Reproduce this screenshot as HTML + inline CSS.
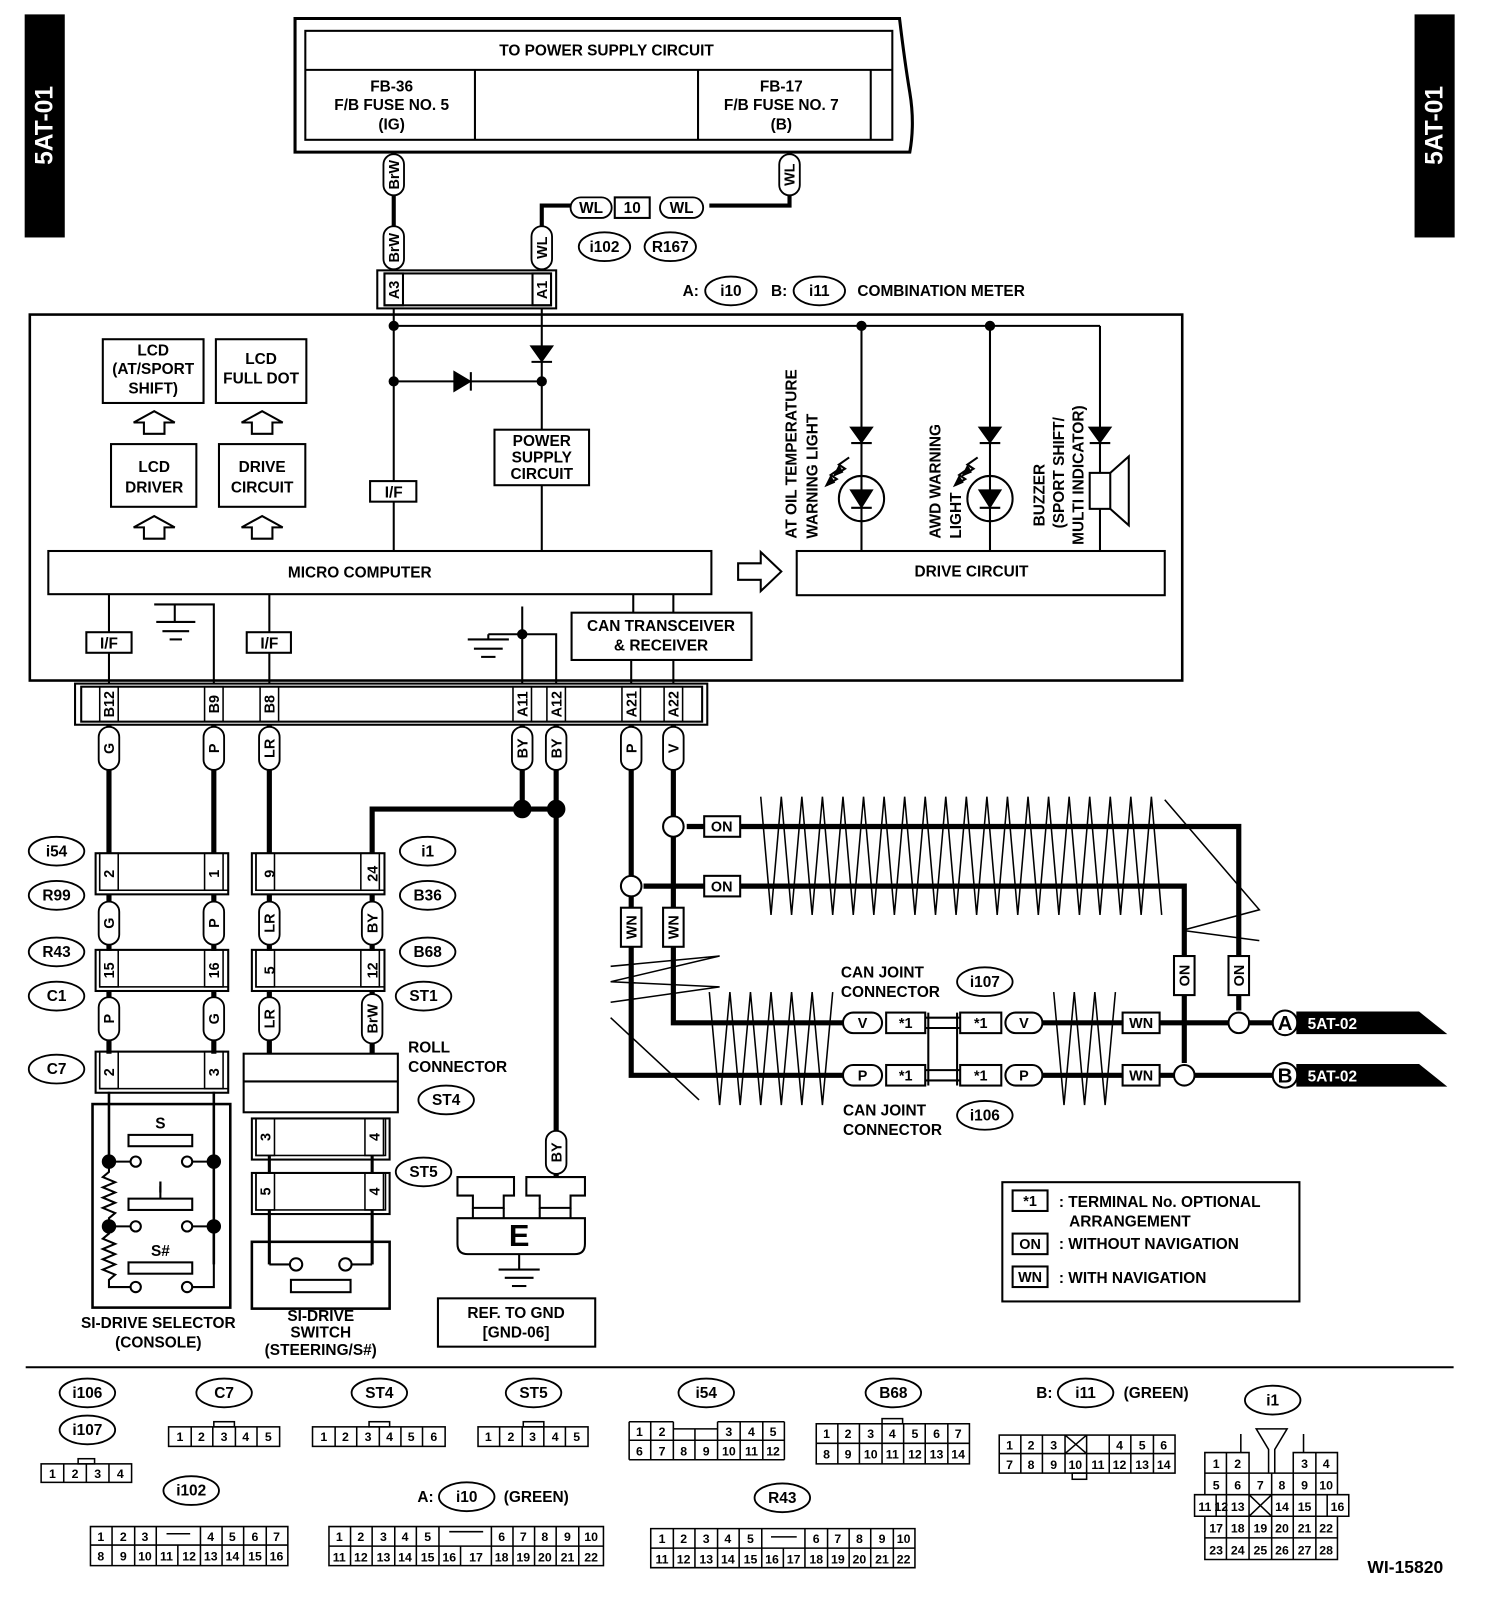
<!DOCTYPE html>
<html><head><meta charset="utf-8"><style>
html,body{margin:0;padding:0;background:#fff}
svg{display:block}
text{font-family:"Liberation Sans",sans-serif;font-weight:bold;fill:#000}
</style></head><body>
<svg width="1504" height="1616" viewBox="0 0 1463 1572" preserveAspectRatio="none" xmlns="http://www.w3.org/2000/svg">
<g fill="none" stroke="#000" stroke-width="2">
<!-- tabs -->
<rect x="25" y="15" width="37" height="215" fill="#000"/>
<rect x="1377" y="15" width="37" height="215" fill="#000"/>
<!-- power supply -->
<path d="M287 148 V18 H875 Q880 60 885 90 Q890 120 885 148 Z" stroke-width="3"/>
<rect x="297" y="30" width="571" height="106"/>
<line x1="297" y1="68" x2="868" y2="68"/>
<line x1="462" y1="68" x2="462" y2="136"/><line x1="679" y1="68" x2="679" y2="136"/><line x1="847" y1="68" x2="847" y2="136"/>
<!-- wires top -->
<line x1="383" y1="148" x2="383" y2="263" stroke-width="4"/>
<polyline points="768,148 768,200 690,200" stroke-width="4"/>
<polyline points="555,200 527,200 527,263" stroke-width="4"/>
<rect x="598" y="192" width="34" height="20"/>
<rect x="367" y="263" width="174" height="37"/>
<rect x="374" y="266" width="162" height="31"/>
<rect x="374" y="266" width="18" height="31"/><rect x="518" y="266" width="18" height="31"/>
<!-- main box -->
<rect x="29" y="306" width="1121" height="356" stroke-width="2.5"/>
<line x1="383" y1="317" x2="1070" y2="317"/>
<line x1="383" y1="300" x2="383" y2="536"/>
<line x1="527" y1="300" x2="527" y2="418"/><line x1="527" y1="472" x2="527" y2="536"/>
<line x1="383" y1="371" x2="527" y2="371"/>
<rect x="360" y="468" width="45" height="20" fill="#fff"/>
<rect x="481" y="418" width="92" height="54"/>
<rect x="100" y="330" width="98" height="62"/><rect x="210" y="330" width="88" height="62"/>
<rect x="108" y="432" width="83" height="61"/><rect x="213" y="432" width="84" height="61"/>
<path d="M140 422 V411 H130 L150 400 L170 411 H160 V422 Z"/>
<path d="M245 422 V411 H235 L255 400 L275 411 H265 V422 Z"/>
<path d="M140 524 V513 H130 L150 502 L170 513 H160 V524 Z"/>
<path d="M245 524 V513 H235 L255 502 L275 513 H265 V524 Z"/>
<rect x="47" y="536" width="645" height="42"/>
<path d="M718 548 H740 V537 L760 556 L740 575 V564 H718 Z"/>
<rect x="775" y="536" width="358" height="43"/>
<line x1="838" y1="317" x2="838" y2="536"/><line x1="963" y1="317" x2="963" y2="536"/>
<polyline points="1070,317 1070,460"/><line x1="1070" y1="495" x2="1070" y2="536"/>
<circle cx="838" cy="485" r="22"/><circle cx="963" cy="485" r="22"/>
<rect x="1060" y="460" width="20" height="35"/><path d="M1080 460 L1098 444 V511 L1080 495"/>
<path d="M818 455 L808 462 L814 466 L804 472"/><path d="M826 445 L816 452 L822 456 L812 462"/>
<path d="M943 455 L933 462 L939 466 L929 472"/><path d="M951 445 L941 452 L947 456 L937 462"/>
<!-- bottom inside -->
<line x1="106" y1="578" x2="106" y2="665"/><line x1="262" y1="578" x2="262" y2="665"/>
<polyline points="150,588 208,588 208,665"/>
<line x1="170" y1="588" x2="170" y2="605"/>
<line x1="152" y1="605" x2="190" y2="605"/><line x1="158" y1="614" x2="184" y2="614"/><line x1="165" y1="622" x2="177" y2="622"/>
<rect x="84" y="615" width="44" height="20" fill="#fff"/><rect x="240" y="615" width="43" height="20" fill="#fff"/>
<line x1="508" y1="590" x2="508" y2="665"/>
<polyline points="508,617 541,617 541,665"/>
<line x1="475" y1="617" x2="508" y2="617"/><line x1="475" y1="617" x2="475" y2="622"/>
<line x1="455" y1="622" x2="495" y2="622"/><line x1="461" y1="631" x2="489" y2="631"/><line x1="468" y1="639" x2="482" y2="639"/>
<rect x="556" y="596" width="175" height="46"/>
<line x1="616" y1="578" x2="616" y2="596"/><line x1="655" y1="578" x2="655" y2="596"/>
<line x1="614" y1="642" x2="614" y2="665"/><line x1="655" y1="642" x2="655" y2="665"/>
<!-- bottom connector -->
<rect x="73" y="665" width="615" height="40"/><rect x="79" y="668" width="604" height="34"/>
<g stroke-width="1.5">
<rect x="97" y="668" width="18" height="34"/><rect x="199" y="668" width="18" height="34"/><rect x="253" y="668" width="18" height="34"/>
<rect x="499" y="668" width="18" height="34"/><rect x="532" y="668" width="18" height="34"/><rect x="605" y="668" width="18" height="34"/><rect x="646" y="668" width="18" height="34"/>
</g>
<!-- thick wires -->
<g stroke-width="5">
<line x1="106" y1="705" x2="106" y2="830"/><line x1="208" y1="705" x2="208" y2="830"/><line x1="262" y1="705" x2="262" y2="830"/>
<line x1="508" y1="705" x2="508" y2="787"/><line x1="541" y1="705" x2="541" y2="1145"/>
<polyline points="541,787 362,787 362,830"/>
<line x1="106" y1="870" x2="106" y2="925"/><line x1="208" y1="870" x2="208" y2="925"/>
<line x1="262" y1="870" x2="262" y2="925"/><line x1="362" y1="870" x2="362" y2="925"/>
<line x1="106" y1="965" x2="106" y2="1025"/><line x1="208" y1="965" x2="208" y2="1025"/>
<line x1="262" y1="965" x2="262" y2="1025"/><line x1="362" y1="965" x2="362" y2="1025"/>
<polyline points="655,705 655,995 820,995"/>
<polyline points="614,705 614,1046 820,1046"/>
<polyline points="668,804 685,804"/><polyline points="720,804 1205,804 1205,983"/>
<polyline points="626,862 685,862"/><polyline points="720,862 1152,862 1152,1034"/>
<line x1="1014" y1="995" x2="1092" y2="995"/><line x1="1128" y1="995" x2="1238" y2="995"/>
<line x1="1014" y1="1046" x2="1092" y2="1046"/><line x1="1128" y1="1046" x2="1238" y2="1046"/>
</g>
<circle cx="508" cy="787" r="8" fill="#000"/><circle cx="541" cy="787" r="8" fill="#000"/>
<circle cx="655" cy="804" r="10" fill="#fff"/><circle cx="614" cy="862" r="10" fill="#fff"/>
<circle cx="1205" cy="995" r="10" fill="#fff"/><circle cx="1152" cy="1046" r="10" fill="#fff"/>
<!-- zigzags -->
<g stroke-width="1.5">
<polyline points="740,775 750,890 760,775 770,890 780,775 790,890 800,775 810,890 820,775 830,890 840,775 850,890 860,775 870,890 880,775 890,890 900,775 910,890 920,775 930,890 940,775 950,890 960,775 970,890 980,775 990,890 1000,775 1010,890 1020,775 1030,890 1040,775 1050,890 1060,775 1070,890 1080,775 1090,890 1100,775 1110,890 1120,775 1130,890"/>
<polyline points="1133,778 1225,885 1150,905 1225,915"/>
<polyline points="690,965 700,1075 710,965 720,1075 730,965 740,1075 750,965 760,1075 770,965 780,1075 790,965 800,1075 810,965"/>
<polyline points="1025,965 1035,1075 1045,965 1055,1075 1065,965 1075,1075 1085,965"/>
<polyline points="594,940 700,930 594,955 700,960 594,975"/>
<polyline points="594,990 680,1070"/>
</g>
<!-- CAN connectors -->
<rect x="820" y="985" width="38" height="20" rx="10" fill="#fff"/><rect x="862" y="985" width="38" height="20" fill="#fff"/>
<rect x="934" y="985" width="40" height="20" fill="#fff"/><rect x="978" y="985" width="36" height="20" rx="10" fill="#fff"/>
<rect x="820" y="1036" width="38" height="20" rx="10" fill="#fff"/><rect x="862" y="1036" width="38" height="20" fill="#fff"/>
<rect x="934" y="1036" width="40" height="20" fill="#fff"/><rect x="978" y="1036" width="36" height="20" rx="10" fill="#fff"/>
<line x1="900" y1="990" x2="934" y2="990"/><line x1="900" y1="1000" x2="934" y2="1000"/>
<line x1="900" y1="1041" x2="934" y2="1041"/><line x1="900" y1="1051" x2="934" y2="1051"/>
<line x1="903" y1="985" x2="903" y2="1056"/><line x1="931" y1="985" x2="931" y2="1056"/>
<rect x="1092" y="985" width="36" height="20" fill="#fff"/><rect x="1092" y="1036" width="36" height="20" fill="#fff"/>
<rect x="685" y="794" width="35" height="20" fill="#fff"/><rect x="685" y="852" width="35" height="20" fill="#fff"/>
<rect x="1142" y="930" width="20" height="38" fill="#fff"/><rect x="1195" y="930" width="20" height="38" fill="#fff"/>
<rect x="604" y="883" width="20" height="38" fill="#fff"/><rect x="645" y="883" width="20" height="38" fill="#fff"/>
<circle cx="1250" cy="995" r="12" fill="#fff"/><circle cx="1250" cy="1046" r="12" fill="#fff"/>
<path d="M1262 985 H1380 L1405 1005 H1262 Z" fill="#000"/>
<path d="M1262 1036 H1380 L1405 1056 H1262 Z" fill="#000"/>
<!-- left connectors -->
<g id="cL">
<rect x="93" y="830" width="129" height="40"/><rect x="97" y="830" width="125" height="36" stroke-width="1.5"/>
<rect x="97" y="830" width="18" height="36" stroke-width="1.5"/><rect x="199" y="830" width="18" height="36" stroke-width="1.5"/>
</g>
<use href="#cL" y="94"/><use href="#cL" y="193"/>
<use href="#cL" x="152"/><use href="#cL" x="152" y="94"/>
<rect x="237" y="1025" width="150" height="57"/><line x1="237" y1="1052" x2="387" y2="1052"/>
<rect x="245" y="1088" width="134" height="40"/><rect x="249" y="1088" width="126" height="36" stroke-width="1.5"/>
<rect x="249" y="1088" width="18" height="36" stroke-width="1.5"/><rect x="355" y="1088" width="18" height="36" stroke-width="1.5"/>
<rect x="245" y="1141" width="134" height="40"/><rect x="249" y="1141" width="126" height="36" stroke-width="1.5"/>
<rect x="249" y="1141" width="18" height="36" stroke-width="1.5"/><rect x="355" y="1141" width="18" height="36" stroke-width="1.5"/>
<line x1="262" y1="1124" x2="262" y2="1141" stroke-width="3"/><line x1="362" y1="1124" x2="362" y2="1141" stroke-width="3"/>
<line x1="262" y1="1177" x2="262" y2="1230" stroke-width="3"/><line x1="362" y1="1177" x2="362" y2="1230" stroke-width="3"/>
<rect x="245" y="1208" width="134" height="65" stroke-width="2.5"/>
<circle cx="288" cy="1230" r="6" fill="#fff"/><circle cx="336" cy="1230" r="6" fill="#fff"/>
<line x1="262" y1="1230" x2="282" y2="1230"/><line x1="342" y1="1230" x2="362" y2="1230"/>
<rect x="283" y="1245" width="58" height="12"/>
<!-- selector -->
<rect x="90" y="1074" width="134" height="198" stroke-width="2.5"/>
<line x1="106" y1="1062" x2="106" y2="1130" stroke-width="2.5"/><line x1="208" y1="1062" x2="208" y2="1230" stroke-width="2.5"/>
<rect x="125" y="1104" width="62" height="11"/><rect x="125" y="1166" width="62" height="11"/><rect x="125" y="1228" width="62" height="11"/>
<line x1="156" y1="1154" x2="156" y2="1166"/>
<circle cx="106" cy="1130" r="6" fill="#000"/><circle cx="208" cy="1130" r="6" fill="#000"/>
<circle cx="106" cy="1193" r="6" fill="#000"/><circle cx="208" cy="1193" r="6" fill="#000"/>
<circle cx="132" cy="1130" r="5" fill="#fff"/><circle cx="182" cy="1130" r="5" fill="#fff"/>
<circle cx="132" cy="1193" r="5" fill="#fff"/><circle cx="182" cy="1193" r="5" fill="#fff"/>
<circle cx="132" cy="1252" r="5" fill="#fff"/><circle cx="182" cy="1252" r="5" fill="#fff"/>
<line x1="106" y1="1130" x2="127" y2="1130"/><line x1="187" y1="1130" x2="208" y2="1130"/>
<line x1="106" y1="1193" x2="127" y2="1193"/><line x1="187" y1="1193" x2="208" y2="1193"/>
<polyline points="208,1193 208,1252 187,1252"/>
<polyline points="106,1130 106,1140 100,1145 112,1150 100,1155 112,1160 100,1165 112,1170 100,1175 112,1180 106,1185 106,1200 100,1205 112,1210 100,1215 112,1220 100,1225 112,1230 100,1235 112,1240 106,1245 106,1252 127,1252"/>
<!-- ground E -->
<path d="M445 1145 H500 V1163 H490 V1175 H460 V1163 H445 Z"/>
<path d="M512 1145 H569 V1163 H555 V1175 H525 V1163 H512 Z"/>
<path d="M445 1185 H569 V1210 Q569 1220 559 1220 H455 Q445 1220 445 1210 Z"/>
<line x1="460" y1="1175" x2="460" y2="1185"/><line x1="490" y1="1175" x2="490" y2="1185"/><line x1="525" y1="1175" x2="525" y2="1185"/><line x1="555" y1="1175" x2="555" y2="1185"/>
<line x1="505" y1="1220" x2="505" y2="1235"/>
<line x1="485" y1="1235" x2="525" y2="1235"/><line x1="491" y1="1243" x2="519" y2="1243"/><line x1="498" y1="1251" x2="512" y2="1251"/>
<rect x="426" y="1263" width="153" height="47"/>
<!-- legend -->
<rect x="975" y="1150" width="289" height="116"/>
<rect x="985" y="1158" width="34" height="20"/><rect x="985" y="1200" width="34" height="20"/><rect x="985" y="1232" width="34" height="20"/>
<line x1="25" y1="1330" x2="1414" y2="1330"/>
<!-- ellipses -->
<g stroke-width="1.8">
<ellipse cx="588" cy="240" rx="25" ry="14"/><ellipse cx="652" cy="240" rx="25" ry="14"/>
<ellipse cx="711" cy="283" rx="25" ry="14"/><ellipse cx="797" cy="283" rx="25" ry="14"/>
<ellipse cx="55" cy="828" rx="27" ry="14"/><ellipse cx="55" cy="871" rx="27" ry="14"/><ellipse cx="55" cy="926" rx="27" ry="14"/><ellipse cx="55" cy="969" rx="27" ry="14"/><ellipse cx="55" cy="1040" rx="27" ry="14"/>
<ellipse cx="416" cy="828" rx="27" ry="14"/><ellipse cx="416" cy="871" rx="27" ry="14"/><ellipse cx="416" cy="926" rx="27" ry="14"/><ellipse cx="412" cy="969" rx="27" ry="14"/><ellipse cx="434" cy="1070" rx="27" ry="14"/><ellipse cx="412" cy="1140" rx="27" ry="14"/>
<ellipse cx="958" cy="955" rx="27" ry="14"/><ellipse cx="958" cy="1085" rx="27" ry="14"/>
<ellipse cx="85" cy="1355" rx="27" ry="14"/><ellipse cx="85" cy="1391" rx="27" ry="14"/><ellipse cx="218" cy="1355" rx="27" ry="14"/><ellipse cx="369" cy="1355" rx="27" ry="14"/><ellipse cx="519" cy="1355" rx="27" ry="14"/><ellipse cx="687" cy="1355" rx="27" ry="14"/><ellipse cx="869" cy="1355" rx="27" ry="14"/><ellipse cx="1056" cy="1355" rx="27" ry="14"/><ellipse cx="1238" cy="1362" rx="27" ry="14"/><ellipse cx="186" cy="1450" rx="27" ry="14"/><ellipse cx="454" cy="1456" rx="27" ry="14"/><ellipse cx="761" cy="1457" rx="27" ry="14"/>
</g>
<!-- vertical wire pills -->
<g fill="#fff" stroke-width="1.8">
<rect x="373" y="150" width="20" height="40" rx="10"/><rect x="373" y="220" width="20" height="42" rx="10"/>
<rect x="758" y="150" width="20" height="40" rx="10"/><rect x="517" y="220" width="20" height="42" rx="10"/>
<rect x="555" y="192" width="40" height="20" rx="10"/><rect x="642" y="192" width="42" height="20" rx="10"/>
<rect x="96" y="707" width="20" height="42" rx="10"/><rect x="198" y="707" width="20" height="42" rx="10"/><rect x="252" y="707" width="20" height="42" rx="10"/>
<rect x="498" y="707" width="20" height="42" rx="10"/><rect x="531" y="707" width="20" height="42" rx="10"/><rect x="604" y="707" width="20" height="42" rx="10"/><rect x="645" y="707" width="20" height="42" rx="10"/>
<rect x="96" y="877" width="20" height="42" rx="10"/><rect x="198" y="877" width="20" height="42" rx="10"/><rect x="252" y="877" width="20" height="42" rx="10"/><rect x="352" y="877" width="20" height="42" rx="10"/>
<rect x="96" y="970" width="20" height="42" rx="10"/><rect x="198" y="970" width="20" height="42" rx="10"/><rect x="252" y="970" width="20" height="42" rx="10"/><rect x="352" y="967" width="20" height="48" rx="10"/>
<rect x="531" y="1100" width="20" height="42" rx="10"/>
</g>
</g>
<!-- diodes -->
<g fill="#000" stroke="#000" stroke-width="2">
<path d="M517 337 H537 L527 351 Z"/><line x1="517" y1="352" x2="537" y2="352"/>
<path d="M442 362 V380 L457 371 Z"/><line x1="458" y1="362" x2="458" y2="380"/>
<path d="M828 416 H848 L838 430 Z"/><line x1="828" y1="431" x2="848" y2="431"/>
<path d="M953 416 H973 L963 430 Z"/><line x1="953" y1="431" x2="973" y2="431"/>
<path d="M1060 416 H1080 L1070 430 Z"/><line x1="1060" y1="431" x2="1080" y2="431"/>
<path d="M828 477 H848 L838 493 Z"/><line x1="828" y1="494" x2="848" y2="494"/>
<path d="M953 477 H973 L963 493 Z"/><line x1="953" y1="494" x2="973" y2="494"/>
<path d="M804 472 l4 -8 l3 5 Z"/><path d="M812 462 l4 -8 l3 5 Z"/>
<path d="M929 472 l4 -8 l3 5 Z"/><path d="M937 462 l4 -8 l3 5 Z"/>
<circle cx="383" cy="317" r="4"/><circle cx="838" cy="317" r="4"/><circle cx="963" cy="317" r="4"/>
<circle cx="383" cy="371" r="4"/><circle cx="527" cy="371" r="4"/><circle cx="508" cy="617" r="4"/>
</g>
<!-- TEXT -->
<g font-size="15">
<text x="43" y="122" transform="rotate(-90 43 122)" text-anchor="middle" fill="#fff" style="fill:#fff" font-size="24" dy="8">5AT-01</text>
<text x="1395" y="122" transform="rotate(-90 1395 122)" text-anchor="middle" style="fill:#fff" font-size="24" dy="8">5AT-01</text>
<text x="590" y="54" text-anchor="middle">TO POWER SUPPLY CIRCUIT</text>
<text x="381" y="89" text-anchor="middle">FB-36</text><text x="381" y="107" text-anchor="middle">F/B FUSE NO. 5</text><text x="381" y="126" text-anchor="middle">(IG)</text>
<text x="760" y="89" text-anchor="middle">FB-17</text><text x="760" y="107" text-anchor="middle">F/B FUSE NO. 7</text><text x="760" y="126" text-anchor="middle">(B)</text>
<text x="615" y="207" text-anchor="middle">10</text>
<text x="575" y="207" text-anchor="middle">WL</text><text x="663" y="207" text-anchor="middle">WL</text>
<text x="588" y="245" text-anchor="middle">i102</text><text x="652" y="245" text-anchor="middle">R167</text>
<text x="664" y="288">A:</text><text x="711" y="288" text-anchor="middle">i10</text><text x="750" y="288">B:</text><text x="797" y="288" text-anchor="middle">i11</text>
<text x="834" y="288">COMBINATION METER</text>
<text x="149" y="346" text-anchor="middle">LCD</text><text x="149" y="364" text-anchor="middle">(AT/SPORT</text><text x="149" y="383" text-anchor="middle">SHIFT)</text>
<text x="254" y="354" text-anchor="middle">LCD</text><text x="254" y="373" text-anchor="middle">FULL DOT</text>
<text x="150" y="459" text-anchor="middle">LCD</text><text x="150" y="479" text-anchor="middle">DRIVER</text>
<text x="255" y="459" text-anchor="middle">DRIVE</text><text x="255" y="479" text-anchor="middle">CIRCUIT</text>
<text x="527" y="434" text-anchor="middle">POWER</text><text x="527" y="450" text-anchor="middle">SUPPLY</text><text x="527" y="466" text-anchor="middle">CIRCUIT</text>
<text x="383" y="484" text-anchor="middle">I/F</text>
<text x="350" y="562" text-anchor="middle">MICRO COMPUTER</text>
<text x="945" y="561" text-anchor="middle">DRIVE CIRCUIT</text>
<text x="643" y="614" text-anchor="middle">CAN TRANSCEIVER</text><text x="643" y="633" text-anchor="middle">&amp; RECEIVER</text>
<text x="106" y="631" text-anchor="middle">I/F</text><text x="262" y="631" text-anchor="middle">I/F</text>
<text transform="translate(775 524) rotate(-90)">AT OIL TEMPERATURE</text>
<text transform="translate(795 524) rotate(-90)">WARNING LIGHT</text>
<text transform="translate(915 524) rotate(-90)">AWD WARNING</text>
<text transform="translate(935 524) rotate(-90)">LIGHT</text>
<text transform="translate(1016 512) rotate(-90)">BUZZER</text>
<text transform="translate(1035 514) rotate(-90)">(SPORT SHIFT/</text>
<text transform="translate(1054 530) rotate(-90)">MULTI INDICATOR)</text>
<g font-size="14" text-anchor="middle">
<text transform="translate(388 170) rotate(-90)">BrW</text><text transform="translate(388 241) rotate(-90)">BrW</text>
<text transform="translate(773 170) rotate(-90)">WL</text><text transform="translate(532 241) rotate(-90)">WL</text>
<text transform="translate(388 282) rotate(-90)">A3</text><text transform="translate(532 282) rotate(-90)">A1</text>
<text transform="translate(111 685) rotate(-90)">B12</text><text transform="translate(213 685) rotate(-90)">B9</text><text transform="translate(267 685) rotate(-90)">B8</text>
<text transform="translate(513 685) rotate(-90)">A11</text><text transform="translate(546 685) rotate(-90)">A12</text><text transform="translate(619 685) rotate(-90)">A21</text><text transform="translate(660 685) rotate(-90)">A22</text>
<text transform="translate(111 728) rotate(-90)">G</text><text transform="translate(213 728) rotate(-90)">P</text><text transform="translate(267 728) rotate(-90)">LR</text>
<text transform="translate(513 728) rotate(-90)">BY</text><text transform="translate(546 728) rotate(-90)">BY</text><text transform="translate(619 728) rotate(-90)">P</text><text transform="translate(660 728) rotate(-90)">V</text>
<text transform="translate(111 850) rotate(-90)">2</text><text transform="translate(213 850) rotate(-90)">1</text><text transform="translate(267 850) rotate(-90)">9</text><text transform="translate(367 850) rotate(-90)">24</text>
<text transform="translate(111 898) rotate(-90)">G</text><text transform="translate(213 898) rotate(-90)">P</text><text transform="translate(267 898) rotate(-90)">LR</text><text transform="translate(367 898) rotate(-90)">BY</text>
<text transform="translate(111 944) rotate(-90)">15</text><text transform="translate(213 944) rotate(-90)">16</text><text transform="translate(267 944) rotate(-90)">5</text><text transform="translate(367 944) rotate(-90)">12</text>
<text transform="translate(111 991) rotate(-90)">P</text><text transform="translate(213 991) rotate(-90)">G</text><text transform="translate(267 991) rotate(-90)">LR</text><text transform="translate(367 991) rotate(-90)">BrW</text>
<text transform="translate(111 1043) rotate(-90)">2</text><text transform="translate(213 1043) rotate(-90)">3</text>
<text transform="translate(263 1106) rotate(-90)">3</text><text transform="translate(369 1106) rotate(-90)">4</text>
<text transform="translate(263 1159) rotate(-90)">5</text><text transform="translate(369 1159) rotate(-90)">4</text>
<text transform="translate(546 1121) rotate(-90)">BY</text>
<text transform="translate(619 902) rotate(-90)">WN</text><text transform="translate(660 902) rotate(-90)">WN</text>
<text transform="translate(1157 949) rotate(-90)">ON</text><text transform="translate(1210 949) rotate(-90)">ON</text>
<text x="702" y="809">ON</text><text x="702" y="867">ON</text>
<text x="839" y="1000">V</text><text x="881" y="1000">*1</text><text x="954" y="1000">*1</text><text x="996" y="1000">V</text><text x="1110" y="1000">WN</text>
<text x="839" y="1051">P</text><text x="881" y="1051">*1</text><text x="954" y="1051">*1</text><text x="996" y="1051">P</text><text x="1110" y="1051">WN</text>
<text x="1002" y="1173">*1</text><text x="1002" y="1215">ON</text><text x="1002" y="1247">WN</text>
</g>
<text x="1250" y="1002" text-anchor="middle" font-size="20">A</text><text x="1250" y="1053" text-anchor="middle" font-size="20">B</text>
<text x="1272" y="1001" style="fill:#fff">5AT-02</text><text x="1272" y="1052" style="fill:#fff">5AT-02</text>
<text x="818" y="951">CAN JOINT</text><text x="818" y="970">CONNECTOR</text>
<text x="820" y="1085">CAN JOINT</text><text x="820" y="1104">CONNECTOR</text>
<text x="958" y="960" text-anchor="middle">i107</text><text x="958" y="1090" text-anchor="middle">i106</text>
<text x="55" y="833" text-anchor="middle">i54</text><text x="55" y="876" text-anchor="middle">R99</text><text x="55" y="931" text-anchor="middle">R43</text><text x="55" y="974" text-anchor="middle">C1</text><text x="55" y="1045" text-anchor="middle">C7</text>
<text x="416" y="833" text-anchor="middle">i1</text><text x="416" y="876" text-anchor="middle">B36</text><text x="416" y="931" text-anchor="middle">B68</text><text x="412" y="974" text-anchor="middle">ST1</text><text x="434" y="1075" text-anchor="middle">ST4</text><text x="412" y="1145" text-anchor="middle">ST5</text>
<text x="397" y="1024">ROLL</text><text x="397" y="1043">CONNECTOR</text>
<text x="156" y="1098" text-anchor="middle">S</text><text x="156" y="1160" text-anchor="middle">I</text><text x="156" y="1222" text-anchor="middle">S#</text>
<text x="505" y="1212" text-anchor="middle" font-size="30">E</text>
<text x="154" y="1292" text-anchor="middle">SI-DRIVE SELECTOR</text><text x="154" y="1311" text-anchor="middle">(CONSOLE)</text>
<text x="312" y="1285" text-anchor="middle">SI-DRIVE</text><text x="312" y="1301" text-anchor="middle">SWITCH</text><text x="312" y="1318" text-anchor="middle">(STEERING/S#)</text>
<text x="502" y="1282" text-anchor="middle">REF. TO GND</text><text x="502" y="1301" text-anchor="middle">[GND-06]</text>
<text x="1030" y="1174">: TERMINAL No. OPTIONAL</text><text x="1040" y="1193">ARRANGEMENT</text>
<text x="1030" y="1215">: WITHOUT NAVIGATION</text><text x="1030" y="1248">: WITH NAVIGATION</text>
<!-- bottom connector labels -->
<text x="85" y="1360" text-anchor="middle">i106</text><text x="85" y="1396" text-anchor="middle">i107</text>
<text x="218" y="1360" text-anchor="middle">C7</text><text x="369" y="1360" text-anchor="middle">ST4</text><text x="519" y="1360" text-anchor="middle">ST5</text>
<text x="687" y="1360" text-anchor="middle">i54</text><text x="869" y="1360" text-anchor="middle">B68</text>
<text x="1008" y="1360">B:</text><text x="1056" y="1360" text-anchor="middle">i11</text><text x="1093" y="1360">(GREEN)</text>
<text x="1238" y="1367" text-anchor="middle">i1</text>
<text x="186" y="1455" text-anchor="middle">i102</text>
<text x="406" y="1461">A:</text><text x="454" y="1461" text-anchor="middle">i10</text><text x="490" y="1461">(GREEN)</text>
<text x="761" y="1462" text-anchor="middle">R43</text>
<text x="1367" y="1530" text-anchor="middle" font-size="17">WI-15820</text>
</g>
<!-- small connector grids -->
<g fill="none" stroke="#000" stroke-width="1.5">
<rect x="40" y="1424" width="88" height="18"/><path d="M62 1424V1442M84 1424V1442M106 1424V1442"/><rect x="76" y="1419" width="16" height="5"/>
<rect x="164" y="1388" width="108" height="19"/><path d="M186 1388V1407M207 1388V1407M229 1388V1407M250 1388V1407"/><rect x="208" y="1383" width="20" height="5"/>
<rect x="304" y="1388" width="129" height="19"/><path d="M326 1388V1407M347 1388V1407M369 1388V1407M390 1388V1407M411 1388V1407"/><rect x="359" y="1383" width="20" height="5"/>
<rect x="465" y="1388" width="107" height="19"/><path d="M486 1388V1407M508 1388V1407M529 1388V1407M550 1388V1407"/><rect x="509" y="1383" width="20" height="5"/>
<path d="M612 1383H655M698 1383H763M612 1401H763M612 1420H763M612 1383V1420M763 1383V1420M633 1383V1420M655 1383V1420M676 1390V1420M698 1383V1420M720 1383V1420M742 1383V1420M655 1390H698"/>
<rect x="794" y="1385" width="149" height="39"/><path d="M794 1404H943M815 1385V1424M836 1385V1424M858 1385V1424M879 1385V1424M900 1385V1424M922 1385V1424"/><rect x="858" y="1380" width="20" height="5"/>
<rect x="972" y="1396" width="171" height="37"/><path d="M972 1414H1143M993 1396V1433M1014 1396V1433M1036 1396V1433M1057 1396V1433M1079 1396V1433M1100 1396V1433M1122 1396V1433M1036 1396L1057 1414M1057 1396L1036 1414"/><rect x="1043" y="1433" width="14" height="6"/>
<path d="M88 1485H280V1523H88ZM88 1503H280M109 1485V1523M131 1485V1523M152 1485V1523M173 1503V1523M195 1485V1523M216 1485V1523M237 1485V1523M259 1485V1523M162 1492H185"/>
<path d="M320 1485H587V1523H320ZM320 1504H587M341 1485V1523M362 1485V1523M384 1485V1523M405 1485V1523M427 1485V1523M448 1504V1523M478 1485V1523M499 1485V1523M520 1485V1523M541 1485V1523M563 1485V1523M437 1490H470"/>
<path d="M633 1487H890V1525H633ZM633 1506H890M655 1487V1525M676 1487V1525M698 1487V1525M719 1487V1525M741 1487V1525M762 1506V1525M783 1487V1525M805 1487V1525M826 1487V1525M847 1487V1525M869 1487V1525M750 1495H775"/>
<path d="M1172 1413H1215V1433H1172ZM1258 1413H1301V1433H1258ZM1172 1433H1301V1454H1172ZM1162 1454H1312V1475H1162ZM1172 1475H1301V1496H1172ZM1172 1496H1301V1517H1172ZM1193 1413V1517M1215 1433V1517M1237 1433V1517M1258 1433V1517M1280 1413V1517M1183 1454V1475M1291 1454V1475M1215 1454L1237 1475M1237 1454L1215 1475M1222 1390H1252L1240 1410V1433H1234V1410Z M1207 1395V1413M1268 1395V1413"/>
</g>
<g font-family="Liberation Sans" font-size="12" text-anchor="middle">
<text x="51" y="1438">1</text><text x="73" y="1438">2</text><text x="95" y="1438">3</text><text x="117" y="1438">4</text>
<text x="175" y="1402">1</text><text x="196" y="1402">2</text><text x="218" y="1402">3</text><text x="239" y="1402">4</text><text x="261" y="1402">5</text>
<text x="315" y="1402">1</text><text x="336" y="1402">2</text><text x="358" y="1402">3</text><text x="379" y="1402">4</text><text x="400" y="1402">5</text><text x="422" y="1402">6</text>
<text x="475" y="1402">1</text><text x="497" y="1402">2</text><text x="518" y="1402">3</text><text x="540" y="1402">4</text><text x="561" y="1402">5</text>
<text x="622" y="1397">1</text><text x="644" y="1397">2</text><text x="709" y="1397">3</text><text x="731" y="1397">4</text><text x="752" y="1397">5</text>
<text x="622" y="1416">6</text><text x="644" y="1416">7</text><text x="665" y="1416">8</text><text x="687" y="1416">9</text><text x="709" y="1416">10</text><text x="731" y="1416">11</text><text x="752" y="1416">12</text>
<text x="804" y="1399">1</text><text x="825" y="1399">2</text><text x="847" y="1399">3</text><text x="868" y="1399">4</text><text x="890" y="1399">5</text><text x="911" y="1399">6</text><text x="932" y="1399">7</text>
<text x="804" y="1419">8</text><text x="825" y="1419">9</text><text x="847" y="1419">10</text><text x="868" y="1419">11</text><text x="890" y="1419">12</text><text x="911" y="1419">13</text><text x="932" y="1419">14</text>
<text x="982" y="1410">1</text><text x="1003" y="1410">2</text><text x="1025" y="1410">3</text><text x="1089" y="1410">4</text><text x="1111" y="1410">5</text><text x="1132" y="1410">6</text>
<text x="982" y="1429">7</text><text x="1003" y="1429">8</text><text x="1025" y="1429">9</text><text x="1046" y="1429">10</text><text x="1068" y="1429">11</text><text x="1089" y="1429">12</text><text x="1111" y="1429">13</text><text x="1132" y="1429">14</text>
<text x="98" y="1499">1</text><text x="120" y="1499">2</text><text x="141" y="1499">3</text><text x="205" y="1499">4</text><text x="226" y="1499">5</text><text x="248" y="1499">6</text><text x="269" y="1499">7</text>
<text x="98" y="1518">8</text><text x="120" y="1518">9</text><text x="141" y="1518">10</text><text x="162" y="1518">11</text><text x="184" y="1518">12</text><text x="205" y="1518">13</text><text x="226" y="1518">14</text><text x="248" y="1518">15</text><text x="269" y="1518">16</text>
<text x="330" y="1499">1</text><text x="351" y="1499">2</text><text x="373" y="1499">3</text><text x="394" y="1499">4</text><text x="416" y="1499">5</text><text x="488" y="1499">6</text><text x="509" y="1499">7</text><text x="530" y="1499">8</text><text x="552" y="1499">9</text><text x="575" y="1499">10</text>
<text x="330" y="1519">11</text><text x="351" y="1519">12</text><text x="373" y="1519">13</text><text x="394" y="1519">14</text><text x="416" y="1519">15</text><text x="437" y="1519">16</text><text x="463" y="1519">17</text><text x="488" y="1519">18</text><text x="509" y="1519">19</text><text x="530" y="1519">20</text><text x="552" y="1519">21</text><text x="575" y="1519">22</text>
<text x="644" y="1501">1</text><text x="665" y="1501">2</text><text x="687" y="1501">3</text><text x="708" y="1501">4</text><text x="730" y="1501">5</text><text x="794" y="1501">6</text><text x="815" y="1501">7</text><text x="836" y="1501">8</text><text x="858" y="1501">9</text><text x="879" y="1501">10</text>
<text x="644" y="1521">11</text><text x="665" y="1521">12</text><text x="687" y="1521">13</text><text x="708" y="1521">14</text><text x="730" y="1521">15</text><text x="751" y="1521">16</text><text x="772" y="1521">17</text><text x="794" y="1521">18</text><text x="815" y="1521">19</text><text x="836" y="1521">20</text><text x="858" y="1521">21</text><text x="879" y="1521">22</text>
<text x="1183" y="1428">1</text><text x="1204" y="1428">2</text><text x="1269" y="1428">3</text><text x="1290" y="1428">4</text>
<text x="1183" y="1449">5</text><text x="1204" y="1449">6</text><text x="1226" y="1449">7</text><text x="1247" y="1449">8</text><text x="1269" y="1449">9</text><text x="1290" y="1449">10</text>
<text x="1172" y="1470">11</text><text x="1188" y="1470">12</text><text x="1204" y="1470">13</text><text x="1247" y="1470">14</text><text x="1269" y="1470">15</text><text x="1301" y="1470">16</text>
<text x="1183" y="1491">17</text><text x="1204" y="1491">18</text><text x="1226" y="1491">19</text><text x="1247" y="1491">20</text><text x="1269" y="1491">21</text><text x="1290" y="1491">22</text>
<text x="1183" y="1512">23</text><text x="1204" y="1512">24</text><text x="1226" y="1512">25</text><text x="1247" y="1512">26</text><text x="1269" y="1512">27</text><text x="1290" y="1512">28</text>
</g>
</svg>
</body></html>
